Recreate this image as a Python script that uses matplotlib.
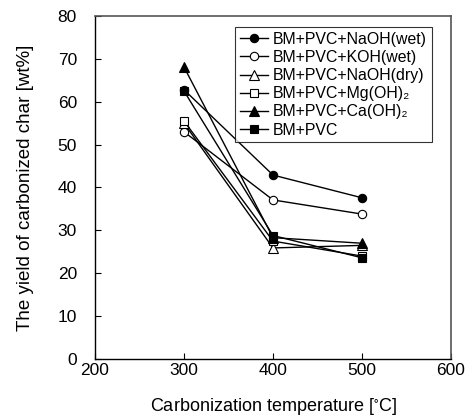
import matplotlib
matplotlib.use("Agg")
import matplotlib.pyplot as plt

plt.rcParams['font.family'] = ['Liberation Sans', 'DejaVu Sans']
plt.rcParams['mathtext.fontset'] = 'custom'
plt.rcParams['mathtext.rm'] = 'Liberation Sans'
plt.rcParams['mathtext.default'] = 'regular'

temperature = [300, 400, 500]

naoh_wet = [62.8, 42.9, 37.6]
koh_wet = [53.0, 37.1, 33.8]
naoh_dry = [55.0, 25.9, 26.5]
mg_oh2 = [55.5, 27.5, 24.0]
ca_oh2 = [68.1, 28.3, 27.0]
bm_pvc = [62.5, 28.8, 23.6]

labels = ['BM+PVC+NaOH(wet)', 'BM+PVC+KOH(wet)', 'BM+PVC+NaOH(dry)',
          'BM+PVC+Mg(OH)\u2082', 'BM+PVC+Ca(OH)\u2082', 'BM+PVC']

x_ticks = [200, 300, 400, 500, 600]
y_ticks = [0, 10, 20, 30, 40, 50, 60, 70, 80]

fig = plt.figure(figsize=(4.66, 4.17), dpi=100)
ax = fig.add_axes([95 / 466, 1 - 359 / 417, 356 / 466, 343 / 417])

series = [
    (naoh_wet, 'o', 'black', 6.0),
    (koh_wet, 'o', 'white', 6.0),
    (naoh_dry, '^', 'white', 6.5),
    (mg_oh2, 's', 'white', 5.5),
    (ca_oh2, '^', 'black', 6.5),
    (bm_pvc, 's', 'black', 5.5),
]

for (vals, mk, fc, ms), lab in zip(series, labels):
    ax.plot(temperature, vals, color='black', lw=1.0, marker=mk,
            markerfacecolor=fc, markeredgecolor='black', markeredgewidth=0.8,
            markersize=ms, label=lab)

ax.set_xlim(200, 600)
ax.set_ylim(0, 80)
ax.set_xticks(x_ticks)
ax.set_yticks(y_ticks)
ax.tick_params(direction='in', length=4, width=0.8, labelsize=12.5)
ax.tick_params(axis='y', pad=13)
ax.tick_params(axis='x', pad=3)

for side in ['left', 'bottom']:
    ax.spines[side].set_color('black')
    ax.spines[side].set_linewidth(1.0)
for side in ['top', 'right']:
    ax.spines[side].set_color('#555555')
    ax.spines[side].set_linewidth(1.2)

ax.set_xlabel('Carbonization temperature [$^{\\circ}$C]', fontsize=13, labelpad=13)
ax.set_ylabel('The yield of carbonized char [wt%]', fontsize=13.5, labelpad=17)

leg = ax.legend(loc='upper left', bbox_to_anchor=(140 / 356, 1 - 11 / 343),
                fontsize=11.4, frameon=True, fancybox=False, edgecolor='black',
                handlelength=1.8, handletextpad=0.3, labelspacing=0.2,
                borderpad=0.3, borderaxespad=0)
leg.get_frame().set_linewidth(0.8)

fig.savefig('out.png', dpi=100)
